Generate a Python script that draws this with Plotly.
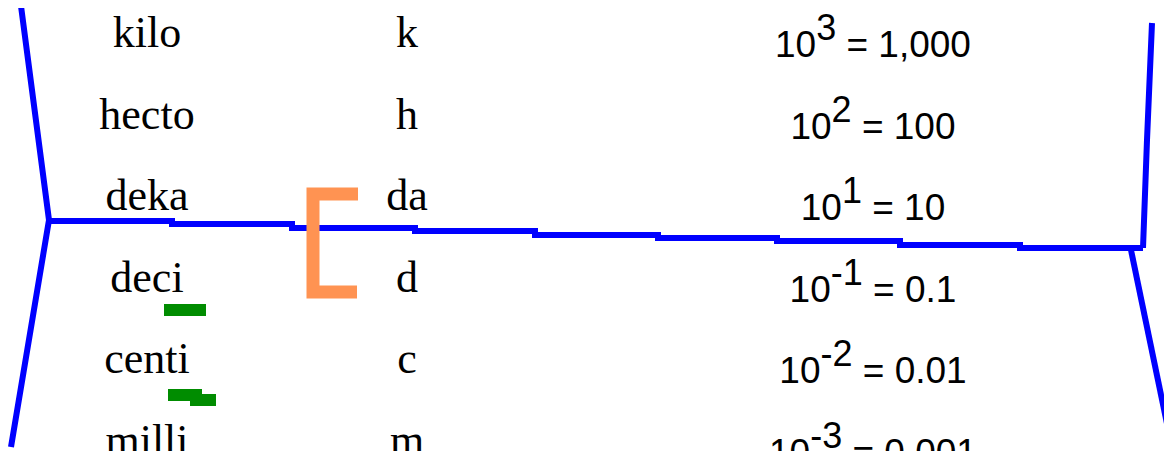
import plotly.graph_objects as go

# table content
prefixes = ["kilo", "hecto", "deka", "deci", "centi", "milli"]
symbols = ["k", "h", "da", "d", "c", "m"]
powers = ["3", "2", "1", "-1", "-2", "-3"]
values = ["1,000", "100", "10", "0.1", "0.01", "0.001"]

# hand-drawn strokes, in picture pixels
left_x = [21, 49, 11]
left_y = [6, 220, 447]
mid_x = [50, 172, 292, 415, 535, 658, 777, 900, 1020, 1143]
mid_y = [221, 224, 228, 231, 235, 238, 241, 245, 248, 248]
right_top_x = [1152, 1150, 1147, 1143]
right_top_y = [23, 85, 140, 248]
right_low_x = [1131, 1171]
right_low_y = [250, 443]
bracket_x = [358, 313, 313, 357]
bracket_y = [194, 194, 292, 292]
deci_mark_x = [164, 206]
deci_mark_y = [310, 310]
centi_mark_x = [168, 196, 216]
centi_mark_y = [395, 400, 400]

W, H = 1172, 451
off = 8  # page body margin
row_gap = 81.6
n = len(prefixes)

serif = "Liberation Serif, Times New Roman, serif"
sans = "Liberation Sans, Arial, sans-serif"
WORD, MAIN, SUP = 44, 37, 36

# Liberation Sans advance widths (em), for laying out the power column
adv = {"0": .556, "1": .556, "2": .556, "3": .556, " ": .278, "=": .584, ",": .278, ".": .278, "-": .333}


def tw(s, size):
    return sum(adv[c] for c in s) * size


# scatter text in "middle" sits with its baseline 0.25 * size below y
word_base = [47 + row_gap * i for i in range(n)]
num_base = [57 + row_gap * i for i in range(n)]

tens, sups, rests = [], [], []
for p, v in zip(powers, values):
    rest = " = " + v
    total = tw("10", MAIN) + tw(p, SUP) + tw(rest, MAIN)
    x0 = 873 - total / 2
    tens.append(x0)
    sups.append(x0 + tw("10", MAIN))
    rests.append(x0 + tw("10", MAIN) + tw(p, SUP))

fig = go.Figure()

fig.add_trace(go.Scatter(x=[147] * n, y=[b - 0.25 * WORD for b in word_base], text=prefixes,
                         mode="text", textfont=dict(family=serif, size=WORD, color="black")))
fig.add_trace(go.Scatter(x=[407] * n, y=[b - 0.25 * WORD for b in word_base], text=symbols,
                         mode="text", textfont=dict(family=serif, size=WORD, color="black")))
fig.add_trace(go.Scatter(x=tens, y=[b - 0.25 * MAIN for b in num_base], text=["10"] * n,
                         mode="text", textposition="middle right",
                         textfont=dict(family=sans, size=MAIN, color="black")))
fig.add_trace(go.Scatter(x=sups, y=[b - 17 - 0.25 * SUP for b in num_base], text=powers,
                         mode="text", textposition="middle right",
                         textfont=dict(family=sans, size=SUP, color="black")))
fig.add_trace(go.Scatter(x=rests, y=[b - 0.25 * MAIN for b in num_base],
                         text=[" = " + v for v in values],
                         mode="text", textposition="middle right",
                         textfont=dict(family=sans, size=MAIN, color="black")))

blue = dict(color="#0000FF", width=6)
fig.add_trace(go.Scatter(x=left_x, y=left_y, mode="lines", line=blue))
fig.add_trace(go.Scatter(x=mid_x, y=mid_y, mode="lines", line=dict(blue, shape="hv")))
fig.add_trace(go.Scatter(x=right_top_x, y=right_top_y, mode="lines", line=blue))
fig.add_trace(go.Scatter(x=right_low_x, y=right_low_y, mode="lines", line=blue))
fig.add_trace(go.Scatter(x=bracket_x, y=bracket_y, mode="lines",
                         line=dict(color="#FF9352", width=13)))
green = dict(color="#008C00", width=12, shape="hv")
fig.add_trace(go.Scatter(x=deci_mark_x, y=deci_mark_y, mode="lines", line=green))
fig.add_trace(go.Scatter(x=centi_mark_x, y=centi_mark_y, mode="lines", line=green))

fig.update_layout(width=W, height=H, margin=dict(l=0, r=0, t=0, b=0),
                  paper_bgcolor="white", plot_bgcolor="white", showlegend=False,
                  xaxis=dict(range=[off, W + off], visible=False, fixedrange=True),
                  yaxis=dict(range=[H + off, off], visible=False, fixedrange=True))
fig.write_html("out.html", config={"displayModeBar": False})
